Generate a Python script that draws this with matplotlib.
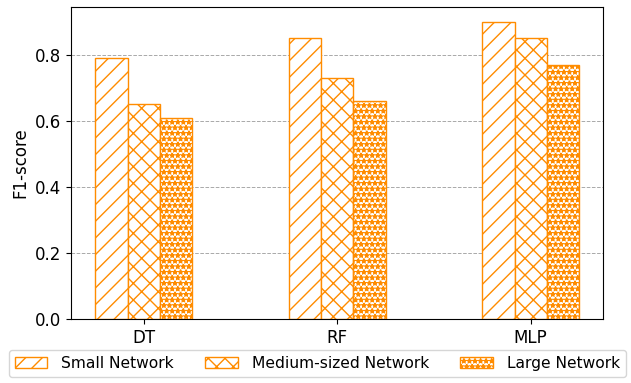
import matplotlib.pyplot as plt
import numpy as np

models = ["DT", "RF", "MLP"]
small = [0.79, 0.85, 0.90]
medium = [0.65, 0.73, 0.85]
large = [0.61, 0.66, 0.77]
labels = ["Small Network", "Medium-sized Network", "Large Network"]

x = np.arange(len(models))
w = 1 / 6

plt.rcParams["font.size"] = 12
fig, ax = plt.subplots(figsize=(6.31, 3.83), dpi=100)
fig.subplots_adjust(left=0.113, right=0.956, top=0.982, bottom=0.167)

ax.bar(x - w, small, w, color="white", edgecolor="darkorange", hatch="//", label=labels[0])
ax.bar(x, medium, w, color="white", edgecolor="darkorange", hatch="xx", label=labels[1])
ax.bar(x + w, large, w, color="white", edgecolor="darkorange", hatch="***", label=labels[2])

ax.set_xticks(x)
ax.set_xticklabels(models)
ax.set_ylabel("F1-score")
ax.yaxis.grid(True, linestyle="--", color="darkgray", linewidth=0.7)
ax.set_axisbelow(True)

fig.legend(loc="lower center", bbox_to_anchor=(0.503, -0.005), ncol=3, fontsize=11.2,
           handlelength=2.1, handletextpad=0.9, columnspacing=2.0)

plt.savefig("out.png")
